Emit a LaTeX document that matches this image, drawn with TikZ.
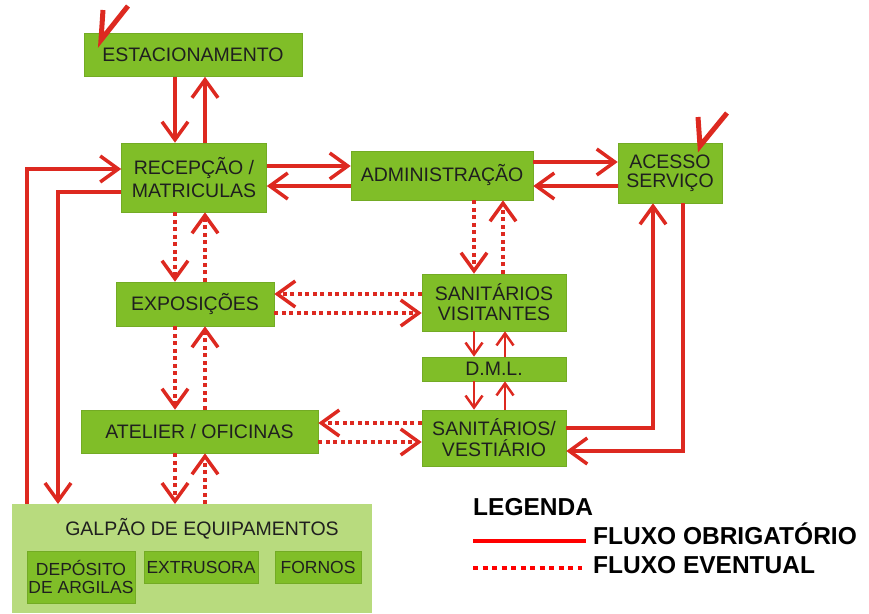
\documentclass[tikz,border=0pt]{standalone}
\usepackage{fontspec}
\setmainfont{Liberation Sans}
\usetikzlibrary{arrows.meta, positioning, calc}
\definecolor{roomgreen}{RGB}{128,190,40}
\definecolor{shedgreen}{RGB}{184,219,126}
\definecolor{flowred}{RGB}{221,41,32}
\definecolor{legendred}{RGB}{255,0,0}

\begin{document}
\begin{tikzpicture}[
  x=1pt, y=-1pt,
  room/.style={rectangle, fill=roomgreen, draw=roomgreen!90!black, line width=0.6pt, inner sep=0pt, align=center, text=black!88, font=\fontsize{19.5}{22}\selectfont},
  machine/.style={room, font=\fontsize{17.5}{18.5}\selectfont},
  shed/.style={rectangle, fill=shedgreen, inner sep=0pt},
  flow/.style={draw=flowred, line width=3.5pt, -{Straight Barb[length=18pt, width=26pt]}},
  eventual/.style={flow, dash pattern=on 4pt off 3.5pt},
  smallflow/.style={draw=flowred, line width=2.5pt, -{Straight Barb[length=12pt, width=17pt]}},
  check/.style={draw=flowred, line width=5pt},
  legendtext/.style={anchor=base west, inner sep=0pt, font=\bfseries\fontsize{24.5}{27}\selectfont}
]
  \useasboundingbox (0,0) rectangle (869,613);

  % rooms
  \node[room, minimum width=218, minimum height=43] (estac) at (193,55) {ESTACIONAMENTO};
  \node[room, minimum width=145, minimum height=69, font=\fontsize{19.5}{23}\selectfont] (recep) at (194,177.5) {RECEPÇÃO /\\MATRICULAS};
  \node[room, minimum width=182, minimum height=49] (admin) at (442,175.5) {ADMINISTRAÇÃO};
  \node[room, minimum width=104, minimum height=60, font=\fontsize{19.5}{19}\selectfont] (acesso) at (670,173) {ACESSO\\SERVIÇO};
  \node[room, minimum width=158, minimum height=44] (expos) at (195,304) {EXPOSIÇÕES};
  \node[room, minimum width=144, minimum height=57, font=\fontsize{19.5}{20}\selectfont] (sanvis) at (494,302.5) {SANITÁRIOS\\VISITANTES};
  \node[room, minimum width=144, minimum height=24] (dml) at (494,369) {D.M.L.};
  \node[room, minimum width=144, minimum height=56, font=\fontsize{19.5}{21}\selectfont] (sanvest) at (494,438) {SANITÁRIOS/\\VESTIÁRIO};
  \node[room, minimum width=237, minimum height=43] (atelier) at (199.5,431.5) {ATELIER / OFICINAS};

  % galpao
  \node[shed, minimum width=360, minimum height=109, anchor=north west] (galpao) at (12,504) {};
  \node[inner sep=0pt, text=black!88, font=\fontsize{19.5}{22}\selectfont] (galpaotitle) at (202,529) {GALPÃO DE EQUIPAMENTOS};
  \node[machine, minimum width=108, minimum height=52] (deposito) at (81,577) {DEPÓSITO\\DE ARGILAS};
  \node[machine, minimum width=114, minimum height=32] (extrusora) at (201,567) {EXTRUSORA};
  \node[machine, minimum width=86, minimum height=32] (fornos) at (318,567) {FORNOS};

  % fluxo obrigatorio
  \draw[flow] (estac.south -| 175,0) -- (recep.north -| 175,0);
  \draw[flow] (recep.north -| 205,0) -- (estac.south -| 205,0);
  \draw[flow] (recep.east |- 0,166) -- (admin.west |- 0,166);
  \draw[flow] (admin.west |- 0,186) -- (recep.east |- 0,186);
  \draw[flow] (admin.east |- 0,162) -- (acesso.west |- 0,162);
  \draw[flow] (acesso.west |- 0,186) -- (admin.east |- 0,186);
  \draw[flow] (galpao.north -| 27,0) |- (recep.west |- 0,169);
  \draw[flow] (recep.west |- 0,192) -| (galpao.north -| 58,0);
  \draw[flow] (sanvest.east |- 0,428) -| (acesso.south -| 653,0);
  \draw[flow] (acesso.south -| 683,0) |- (sanvest.east |- 0,451);
  \draw[smallflow] (sanvis.south -| 474,0) -- (dml.north -| 474,0);
  \draw[smallflow] (dml.north -| 505,0) -- (sanvis.south -| 505,0);
  \draw[smallflow] (dml.south -| 474,0) -- (sanvest.north -| 474,0);
  \draw[smallflow] (sanvest.north -| 505,0) -- (dml.south -| 505,0);

  % fluxo eventual
  \draw[eventual] (admin.south -| 474,0) -- (sanvis.north -| 474,0);
  \draw[eventual] (sanvis.north -| 503,0) -- (admin.south -| 503,0);
  \draw[eventual] (recep.south -| 175,0) -- (expos.north -| 175,0);
  \draw[eventual] (expos.north -| 205,0) -- (recep.south -| 205,0);
  \draw[eventual] (expos.south -| 175,0) -- (atelier.north -| 175,0);
  \draw[eventual] (atelier.north -| 205,0) -- (expos.south -| 205,0);
  \draw[eventual] (atelier.south -| 175,0) -- (galpao.north -| 175,0);
  \draw[eventual] (galpao.north -| 205,0) -- (atelier.south -| 205,0);
  \draw[eventual] (sanvis.west |- 0,294) -- (expos.east |- 0,294);
  \draw[eventual] (expos.east |- 0,313) -- (sanvis.west |- 0,313);
  \draw[eventual] (sanvest.west |- 0,423) -- (atelier.east |- 0,423);
  \draw[eventual] (atelier.east |- 0,442) -- (sanvest.west |- 0,442);

  % checks
  \draw[check] (103,10) -- (101,40) -- (128,6);
  \draw[check] (698,117) -- (700,146) -- (727,113);

  % legenda
  \node[legendtext] (legenda) at (473,515) {LEGENDA};
  \node[legendtext] (obrig) at (593,544) {FLUXO OBRIGATÓRIO};
  \node[legendtext] (eventualtxt) at (593,573) {FLUXO EVENTUAL};
  \coordinate (solidA) at (473,541);
  \coordinate (solidB) at (586,541);
  \coordinate (dotA) at (473,568);
  \coordinate (dotB) at (582,568);
  \draw[legendred, line width=4.5pt] (solidA) -- (solidB);
  \draw[legendred, line width=4.5pt, dash pattern=on 5pt off 4.5pt] (dotA) -- (dotB);
\end{tikzpicture}
\end{document}
